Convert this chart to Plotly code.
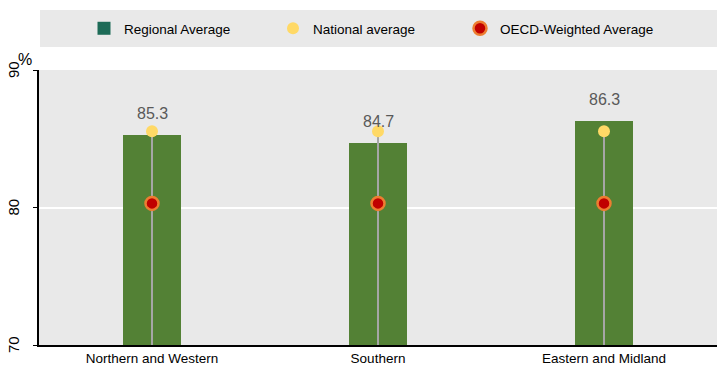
import plotly.graph_objects as go

regions = ["Northern and Western", "Southern", "Eastern and Midland"]
regional_avg = [85.3, 84.7, 86.3]
national_avg = [85.55, 85.55, 85.55]
oecd_avg = [80.3, 80.3, 80.3]
y_ticks = [70, 80, 90]
axis_min = 70

FONT = "Liberation Sans, Arial, sans-serif"

fig = go.Figure()

fig.add_trace(go.Bar(
    x=regions, y=regional_avg,
    marker=dict(color="#538135", line=dict(width=0)),
    width=0.255, showlegend=False, hoverinfo="skip",
))
# legend proxy for bars
fig.add_trace(go.Scatter(
    x=[None], y=[None], mode="markers", name="Regional Average",
    marker=dict(symbol="square", size=13, color="#1d6b57"), legend="legend",
))
# vertical grey lines from national average down to axis
fig.add_trace(go.Scatter(
    x=regions, y=national_avg, mode="markers", showlegend=False,
    marker=dict(size=0.1, color="rgba(0,0,0,0)"),
    error_y=dict(type="data", symmetric=False, array=[0] * len(regions),
                 arrayminus=[v - axis_min for v in national_avg],
                 color="#a6a6a6", thickness=2, width=0),
    hoverinfo="skip",
))
fig.add_trace(go.Scatter(
    x=regions, y=oecd_avg, mode="markers", name="OECD-Weighted Average",
    marker=dict(size=13, color="#c00000", line=dict(color="#ed7d31", width=2.5)),
    legend="legend3",
))
fig.add_trace(go.Scatter(
    x=regions, y=national_avg, mode="markers", name="National average",
    marker=dict(size=12, color="#ffd966"), legend="legend2",
))

for r, v in zip(regions, regional_avg):
    fig.add_annotation(x=r, y=v, text=f"{v:.1f}", showarrow=False,
                       yanchor="bottom", yshift=11,
                       font=dict(family=FONT, size=16, color="#595959"))

# rotated y tick labels
for t in y_ticks:
    fig.add_annotation(xref="paper", yref="y", x=0, y=t, xanchor="center",
                       yanchor="middle", xshift=-26, text=str(t), textangle=-90,
                       showarrow=False,
                       font=dict(family=FONT, size=15, color="#000000"))

fig.add_annotation(xref="paper", yref="paper", x=0, y=1, xanchor="right",
                   yanchor="bottom", xshift=-5, yshift=0, text="%", showarrow=False,
                   font=dict(family=FONT, size=16, color="#000000"))

# legend background band
fig.add_shape(type="rect", xref="paper", yref="paper", x0=0.0015, x1=1,
              y0=1 + 23 / 275, y1=1 + 60 / 275, fillcolor="#e9e9e9",
              line=dict(width=0), layer="below")

leg_common = dict(orientation="h", xanchor="left", y=1 + 41.5 / 275,
                  yanchor="middle", bgcolor="rgba(0,0,0,0)",
                  font=dict(family=FONT, size=13.5, color="#000000"),
                  itemwidth=30)

fig.update_layout(
    width=717, height=367,
    margin=dict(l=39, r=0, t=70, b=22),
    paper_bgcolor="white", plot_bgcolor="#e9e9e9",
    font=dict(family=FONT, size=13.5, color="#000000"),
    bargap=0,
    legend=dict(x=(84 - 39) / 678, **leg_common),
    legend2=dict(x=(273 - 39) / 678, **leg_common),
    legend3=dict(x=(460 - 39) / 678, **leg_common),
    xaxis=dict(showline=True, linecolor="#000000", linewidth=2, showgrid=False,
               ticks="", tickfont=dict(size=13.5), fixedrange=True),
    yaxis=dict(range=[70, 90], tickvals=y_ticks, showticklabels=False,
               showline=True, linecolor="#000000", linewidth=2, showgrid=True,
               gridcolor="#ffffff", gridwidth=2, ticks="outside", ticklen=4,
               tickcolor="#000000", zeroline=False),
)

fig.write_html("out.html")
